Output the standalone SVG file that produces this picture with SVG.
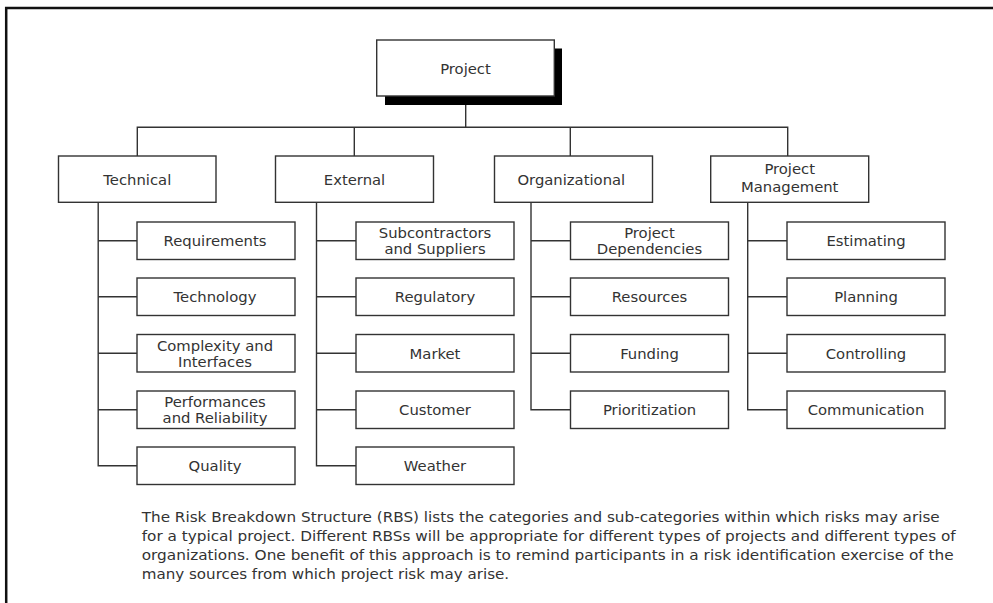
<svg xmlns="http://www.w3.org/2000/svg" width="993" height="603" viewBox="0 0 993 603">
  <style>
    .box { fill: #ffffff; stroke: #333333; stroke-width: 1.4; }
    .lbl { font-family: "DejaVu Sans", "Liberation Sans", sans-serif; font-size: 14.8px; fill: #333333; text-anchor: middle; }
    .cap { font-family: "DejaVu Sans", "Liberation Sans", sans-serif; font-size: 13.5px; fill: #333333; }
    .conn { fill: none; stroke: #333333; stroke-width: 1.4; }
  </style>
  <rect width="993" height="603" fill="#ffffff"/>
  <path d="M6.2,603 V8 H993" fill="none" stroke="#111111" stroke-width="2.5"/>

  <g id="connectors" class="conn">
    <path d="M465.7,104 V127.3"/>
    <path d="M137.3,156 V127.3 H787.7 V156"/>
    <path d="M354.3,127.3 V156"/>
    <path d="M570.3,127.3 V156"/>
    <path d="M98.2,202 V465.7 H137"/>
    <path d="M98.2,240.7 H137 M98.2,296.7 H137 M98.2,353.2 H137 M98.2,409.7 H137"/>
    <path d="M316.5,202 V465.7 H356"/>
    <path d="M316.5,240.7 H356 M316.5,296.7 H356 M316.5,353.2 H356 M316.5,409.7 H356"/>
    <path d="M531,202 V409.7 H570.5"/>
    <path d="M531,240.7 H570.5 M531,296.7 H570.5 M531,353.2 H570.5"/>
    <path d="M747.7,202 V409.7 H787"/>
    <path d="M747.7,240.7 H787 M747.7,296.7 H787 M747.7,353.2 H787"/>
  </g>

  <g id="project">
    <rect x="385" y="48.5" width="177" height="56.5" fill="#000000"/>
    <rect class="box" x="376.7" y="40" width="177.6" height="56"/>
    <text class="lbl" x="465.5" y="74">Project</text>
  </g>

  <g id="technical">
    <rect class="box" x="58.5" y="156" width="157.5" height="46.3"/>
    <text class="lbl" x="137.3" y="184.5">Technical</text>
  </g>
  <g id="external">
    <rect class="box" x="275.5" y="156" width="158" height="46.3"/>
    <text class="lbl" x="354.5" y="184.5">External</text>
  </g>
  <g id="organizational">
    <rect class="box" x="494.5" y="156" width="158" height="46.3"/>
    <text class="lbl" x="571.3" y="184.5">Organizational</text>
  </g>
  <g id="project-management">
    <rect class="box" x="710.7" y="156" width="158" height="46.3"/>
    <text class="lbl" x="789.7" y="174">Project</text>
    <text class="lbl" x="789.7" y="192.2">Management</text>
  </g>

  <g id="requirements">
    <rect class="box" x="137" y="222" width="158" height="37.5"/>
    <text class="lbl" x="215" y="246">Requirements</text>
  </g>
  <g id="technology">
    <rect class="box" x="137" y="278" width="158" height="37.5"/>
    <text class="lbl" x="215" y="302">Technology</text>
  </g>
  <g id="complexity">
    <rect class="box" x="137" y="334.5" width="158" height="37.5"/>
    <text class="lbl" x="215" y="350.5">Complexity and</text>
    <text class="lbl" x="215" y="366.8">Interfaces</text>
  </g>
  <g id="performances">
    <rect class="box" x="137" y="391" width="158" height="37.5"/>
    <text class="lbl" x="215" y="407">Performances</text>
    <text class="lbl" x="215" y="423.3">and Reliability</text>
  </g>
  <g id="quality">
    <rect class="box" x="137" y="447" width="158" height="37.5"/>
    <text class="lbl" x="215" y="471">Quality</text>
  </g>

  <g id="subcontractors">
    <rect class="box" x="356" y="222" width="158" height="37.5"/>
    <text class="lbl" x="435" y="238">Subcontractors</text>
    <text class="lbl" x="435" y="254.3">and Suppliers</text>
  </g>
  <g id="regulatory">
    <rect class="box" x="356" y="278" width="158" height="37.5"/>
    <text class="lbl" x="435" y="302">Regulatory</text>
  </g>
  <g id="market">
    <rect class="box" x="356" y="334.5" width="158" height="37.5"/>
    <text class="lbl" x="435" y="358.5">Market</text>
  </g>
  <g id="customer">
    <rect class="box" x="356" y="391" width="158" height="37.5"/>
    <text class="lbl" x="435" y="415">Customer</text>
  </g>
  <g id="weather">
    <rect class="box" x="356" y="447" width="158" height="37.5"/>
    <text class="lbl" x="435" y="471">Weather</text>
  </g>

  <g id="dependencies">
    <rect class="box" x="570.5" y="222" width="158" height="37.5"/>
    <text class="lbl" x="649.5" y="238">Project</text>
    <text class="lbl" x="649.5" y="254.3">Dependencies</text>
  </g>
  <g id="resources">
    <rect class="box" x="570.5" y="278" width="158" height="37.5"/>
    <text class="lbl" x="649.5" y="302">Resources</text>
  </g>
  <g id="funding">
    <rect class="box" x="570.5" y="334.5" width="158" height="37.5"/>
    <text class="lbl" x="649.5" y="358.5">Funding</text>
  </g>
  <g id="prioritization">
    <rect class="box" x="570.5" y="391" width="158" height="37.5"/>
    <text class="lbl" x="649.5" y="415">Prioritization</text>
  </g>

  <g id="estimating">
    <rect class="box" x="787" y="222" width="158" height="37.5"/>
    <text class="lbl" x="866" y="246">Estimating</text>
  </g>
  <g id="planning">
    <rect class="box" x="787" y="278" width="158" height="37.5"/>
    <text class="lbl" x="866" y="302">Planning</text>
  </g>
  <g id="controlling">
    <rect class="box" x="787" y="334.5" width="158" height="37.5"/>
    <text class="lbl" x="866" y="358.5">Controlling</text>
  </g>
  <g id="communication">
    <rect class="box" x="787" y="391" width="158" height="37.5"/>
    <text class="lbl" x="866" y="415">Communication</text>
  </g>

  <g id="caption" class="cap">
    <text x="141.7" y="522" textLength="798" lengthAdjust="spacingAndGlyphs">The Risk Breakdown Structure (RBS) lists the categories and sub-categories within which risks may arise</text>
    <text x="141.7" y="541" textLength="814" lengthAdjust="spacingAndGlyphs">for a typical project. Different RBSs will be appropriate for different types of projects and different types of</text>
    <text x="141.7" y="560" textLength="812" lengthAdjust="spacingAndGlyphs">organizations. One benefit of this approach is to remind participants in a risk identification exercise of the</text>
    <text x="141.7" y="579" textLength="367.5" lengthAdjust="spacingAndGlyphs">many sources from which project risk may arise.</text>
  </g>
</svg>
